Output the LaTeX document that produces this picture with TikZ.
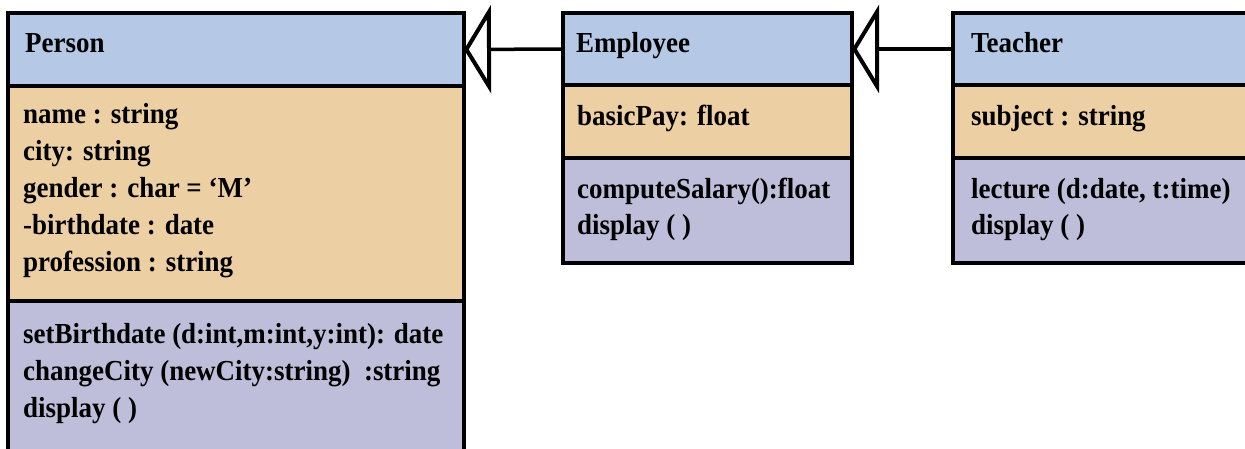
\documentclass[tikz,border=0pt]{standalone}
\usepackage{fontspec}
\usepackage{graphicx}
\setmainfont{Liberation Serif}[BoldFont={* Bold}]
\newfontfamily\umlfont{Liberation Serif Bold}
\usetikzlibrary{arrows.meta}
\definecolor{hdrblue}{RGB}{181,200,230}
\definecolor{attrtan}{RGB}{236,208,164}
\definecolor{methlav}{RGB}{191,190,218}
\newcommand{\umlline}[1]{\scalebox{0.93}[1]{#1}}
\begin{document}
\begin{tikzpicture}[x=1pt,y=-1pt,
  compartment/.style={draw=black, line width=4.5pt, anchor=north west, inner sep=0pt, outer sep=0pt},
  umltext/.style={anchor=base west, inner sep=0pt, font=\umlfont\fontsize{29}{35}\selectfont},
  generalization/.style={draw=black, line width=3.5pt, -{Triangle[open, length=27pt, width=88pt, line width=4pt]}}]
\useasboundingbox (0,0) rectangle (1245,448);
\clip (0,0) rectangle (1245,448);
% Person
\node[compartment, fill=hdrblue, minimum width=456pt, minimum height=73pt] (personH) at (8,13) {};
\node[compartment, fill=attrtan, minimum width=456pt, minimum height=215pt] (personA) at (8,86) {};
\node[compartment, fill=methlav, minimum width=456pt, minimum height=170pt] (personM) at (8,301) {};
% Employee
\node[compartment, fill=hdrblue, minimum width=289pt, minimum height=72pt] (empH) at (563,13) {};
\node[compartment, fill=attrtan, minimum width=289pt, minimum height=73pt] (empA) at (563,85) {};
\node[compartment, fill=methlav, minimum width=289pt, minimum height=105pt] (empM) at (563,158) {};
% Teacher
\node[compartment, fill=hdrblue, minimum width=300pt, minimum height=72pt] (teachH) at (953,13) {};
\node[compartment, fill=attrtan, minimum width=300pt, minimum height=73pt] (teachA) at (953,85) {};
\node[compartment, fill=methlav, minimum width=300pt, minimum height=105pt] (teachM) at (953,158) {};
% Person texts
\node[umltext] (pName) at (25,52) {\umlline{Person}};
\node[umltext] (pA1) at (23,123) {\umlline{name : string}};
\node[umltext] (pA2) at (23,160) {\umlline{city: string}};
\node[umltext] (pA3) at (23,197) {\umlline{gender : char = ‘M’}};
\node[umltext] (pA4) at (23,234) {\umlline{-birthdate : date}};
\node[umltext] (pA5) at (23,271) {\umlline{profession : string}};
\node[umltext] (pM1) at (23,343) {\umlline{setBirthdate (d:int,m:int,y:int): date}};
\node[umltext] (pM2) at (23,380) {\umlline{changeCity (newCity:string)\ \ :string}};
\node[umltext] (pM3) at (23,417) {\umlline{display ( )}};
% Employee texts
\node[umltext] (eName) at (576,52) {\umlline{Employee}};
\node[umltext] (eA1) at (577,125) {\umlline{basicPay: float}};
\node[umltext] (eM1) at (577,198) {\umlline{computeSalary():float}};
\node[umltext] (eM2) at (577,234) {\umlline{display ( )}};
% Teacher texts
\node[umltext] (tName) at (971,52) {\umlline{Teacher}};
\node[umltext] (tA1) at (971,125) {\umlline{subject : string}};
\node[umltext] (tM1) at (971,198) {\umlline{lecture (d:date, t:time)}};
\node[umltext] (tM2) at (971,234) {\umlline{display ( )}};
% Generalizations
\draw[generalization] (empH.west) -- (personH.east);
\draw[generalization] (teachH.west) -- (empH.east);
\end{tikzpicture}
\end{document}
